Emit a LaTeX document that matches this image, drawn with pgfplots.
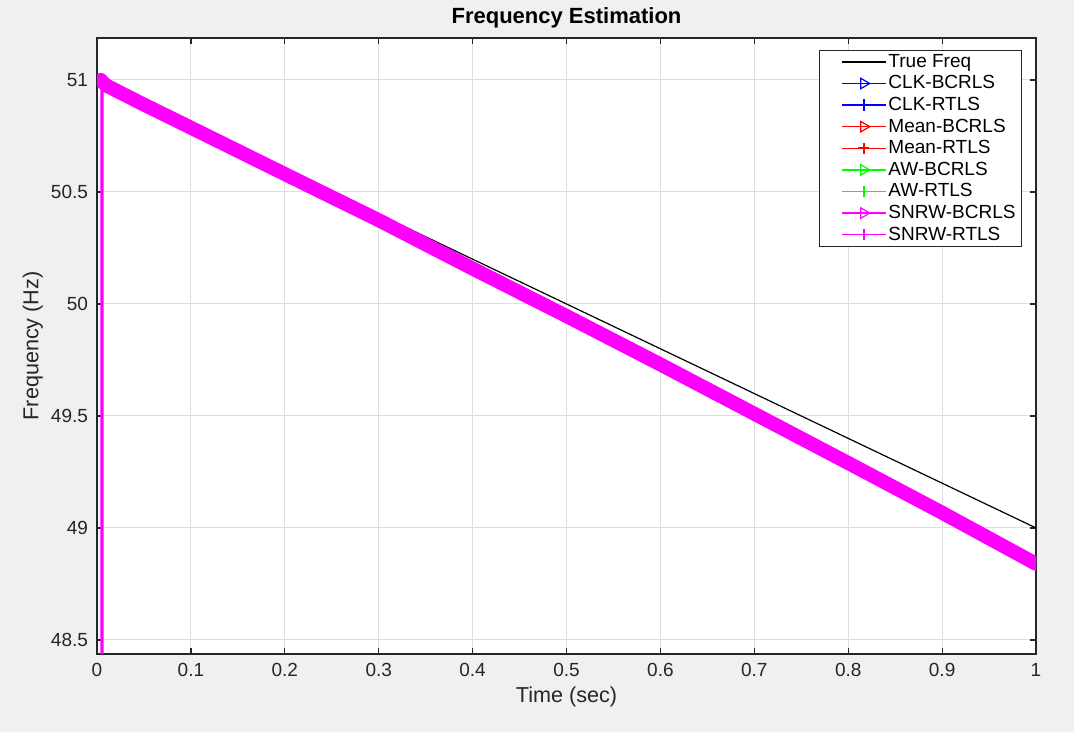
\documentclass[border=0pt]{standalone}
\usepackage{fontspec}
\setmainfont{Liberation Sans}
\usepackage{pgfplots}
\pgfplotsset{compat=1.18}
\usepackage{pgfplotstable}
\definecolor{figbg}{RGB}{240,240,240}
\definecolor{axcol}{RGB}{38,38,38}
\definecolor{gridcol}{RGB}{222,222,222}
\definecolor{mag}{RGB}{255,0,255}
\definecolor{grn}{RGB}{0,255,0}

\pgfplotstableread{
t true
0 51
1 49
}\truetable

\pgfplotstableread{
t est
0.0040 51.000
0.0100 50.975
0.0500 50.890
0.1000 50.787
0.2000 50.580
0.3000 50.374
0.4000 50.158
0.5000 49.946
0.6000 49.730
0.7000 49.510
0.8000 49.290
0.9000 49.068
1.0000 48.840
}\esttable

\pgfplotstableread{
t est
0.0050 40.000
0.0054 50.990
}\spiketable

\begin{document}
\begin{tikzpicture}[x=1pt,y=1pt]
\fill[figbg, use as bounding box] (0,0) rectangle (537,366);
\begin{axis}[
  at={(48.5pt,39pt)}, anchor=south west,
  scale only axis, width=469.5pt, height=308pt,
  xmin=0, xmax=1, ymin=48.4375, ymax=51.1875,
  xtick={0,0.1,...,1.01},
  ytick={48.5,49,49.5,50,50.5,51},
  xticklabels={0,0.1,0.2,0.3,0.4,0.5,0.6,0.7,0.8,0.9,1},
  yticklabels={48.5,49,49.5,50,50.5,51},
  axis background/.style={fill=white},
  axis line style={axcol, line width=0.6pt},
  tick style={axcol, line width=0.6pt},
  major tick length=3pt,
  tick align=inside,
  xtick pos=both, ytick pos=both,
  grid=major,
  major grid style={gridcol, line width=0.5pt},
  tick label style={font=\fontsize{9.5}{11}\selectfont, text=axcol},
  xticklabel style={yshift=-1pt},
  yticklabel style={xshift=-1pt},
  every axis title shift=0pt,
  title={\bfseries Frequency Estimation},
  title style={at={(axis description cs:0.5,1.0325)}, anchor=center, font=\fontsize{11}{13}\selectfont, text=black},
  xlabel={Time (sec)},
  ylabel={Frequency (Hz)},
  xlabel style={at={(axis description cs:0.5,-0.069)}, anchor=center, font=\fontsize{10.8}{13}\selectfont, text=axcol},
  ylabel style={at={(axis description cs:-0.0685,0.5)}, anchor=center, font=\fontsize{10.8}{13}\selectfont, text=axcol},
  legend style={at={(axis description cs:0.9851,0.9805)}, anchor=north east,
    draw=axcol, line width=0.5pt, fill=white,
    font=\fontsize{9.5}{11}\selectfont,
    inner xsep=2pt, inner ysep=0.3pt,
    nodes={text height=7.2pt, text depth=1.8pt, inner ysep=0.9pt, inner xsep=1pt},
    row sep=0pt},
  legend cell align=left,
  legend image code/.code={\path (0pt,0pt); \draw[mark repeat=2,mark phase=2,#1] plot coordinates {(9pt,0pt)(20pt,0pt)(31pt,0pt)};},
]
% legend entries
\addlegendimage{black, line width=0.7pt, mark=none}
\addlegendentry{True Freq}
\addlegendimage{blue, line width=0.7pt, mark=triangle, mark size=3pt, mark options={rotate=-90, solid, line width=0.6pt}}
\addlegendentry{CLK-BCRLS}
\addlegendimage{blue, line width=0.7pt, mark=+, mark size=2.8pt, mark options={solid, line width=0.8pt}}
\addlegendentry{CLK-RTLS}
\addlegendimage{red, line width=0.7pt, mark=triangle, mark size=3pt, mark options={rotate=-90, solid, line width=0.6pt}}
\addlegendentry{Mean-BCRLS}
\addlegendimage{red, line width=0.7pt, mark=+, mark size=2.8pt, mark options={solid, line width=0.8pt}}
\addlegendentry{Mean-RTLS}
\addlegendimage{grn, line width=0.7pt, mark=triangle, mark size=3pt, mark options={rotate=-90, solid, line width=0.6pt}}
\addlegendentry{AW-BCRLS}
\addlegendimage{grn, line width=0.7pt, mark=+, mark size=2.8pt, mark options={solid, line width=0.8pt}}
\addlegendentry{AW-RTLS}
\addlegendimage{mag, line width=0.7pt, mark=triangle, mark size=3pt, mark options={rotate=-90, solid, line width=0.6pt}}
\addlegendentry{SNRW-BCRLS}
\addlegendimage{mag, line width=0.7pt, mark=+, mark size=2.8pt, mark options={solid, line width=0.8pt}}
\addlegendentry{SNRW-RTLS}
% data
\addplot[black, line width=0.6pt, forget plot] table[x=t, y=true] {\truetable};
\addplot[blue, line width=6pt, line join=round, forget plot] table[x=t, y=est] {\esttable};
\addplot[red, line width=6pt, line join=round, forget plot] table[x=t, y=est] {\esttable};
\addplot[grn, line width=6pt, line join=round, forget plot] table[x=t, y=est] {\esttable};
\addplot[mag, line width=1.6pt, forget plot] table[x=t, y=est] {\spiketable};
\addplot[mag, line width=7pt, line join=round, line cap=round, forget plot] table[x=t, y=est] {\esttable};
\end{axis}
\end{tikzpicture}
\end{document}
